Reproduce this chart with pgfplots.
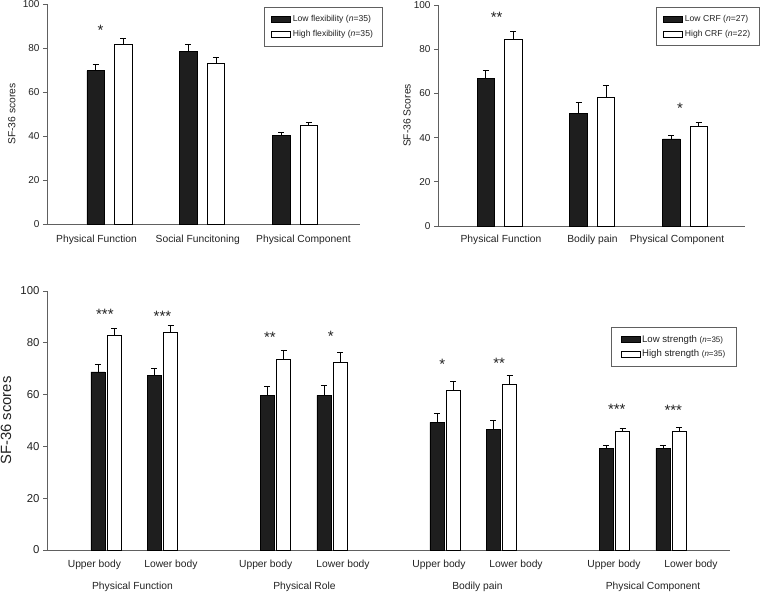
\documentclass[border=0pt]{standalone}
\usepackage{fontspec}
\setmainfont{Liberation Sans}
\usepackage{pgfplots}
\pgfplotsset{compat=1.18}
\definecolor{barblack}{HTML}{1E1E1E}
\definecolor{axgray}{HTML}{606060}
\definecolor{txt}{HTML}{222222}
\newcommand{\fs}[1]{\fontsize{#1}{#1}\selectfont}
\tikzset{sig/.style={font=\fs{15}, text=txt, anchor=base, yshift=-8.5pt, inner sep=0pt}}
\pgfplotsset{
  sfbase/.style={
    scale only axis,
    anchor=south west,
    clip=false,
    axis lines=left,
    axis line style={draw=axgray,line width=0.7pt,-},
    ymin=0, ymax=100,
    ytick={0,20,40,60,80,100},
    tick align=outside,
    major tick length=4pt,
    y tick style={draw=axgray,line width=0.7pt},
    x tick style={draw=none},
    /pgf/number format/assume math mode=true,
    tick label style={text=txt},
    legend cell align=left,
    legend image code/.code={\draw[##1] (0pt,-3pt) rectangle (19pt,3pt);},
  },
  ebars/.style={draw=none, mark=none, forget plot,
    error bars/y dir=plus, error bars/y explicit,
    error bars/error bar style={black,line width=0.7pt},
    error bars/error mark options={rotate=90,black,line width=0.7pt,mark size=3pt}},
  lowbar/.style={ybar, bar shift=0pt, fill=barblack, draw=black, line width=0.6pt},
  highbar/.style={ybar, bar shift=0pt, fill=white, draw=black, line width=0.6pt},
}
\begin{document}
\begin{tikzpicture}
\useasboundingbox (0pt,0pt) rectangle (763pt,593pt);
% ---------------- top left
\begin{axis}[sfbase,
  at={(47pt,369pt)}, width=313pt, height=220pt,
  xmin=-0.672, xmax=2.70,
  xtick={-0.138,0.952,2.091},
  xticklabels={Physical Function,Social Funcitoning,Physical Component},
  xticklabel style={font=\fs{10.3}, anchor=center, yshift=-12pt},
  yticklabel style={font=\fs{10}},
  every axis y label/.style={at={(axis description cs:-0.112,0.5)}, rotate=90, anchor=center, font=\fs{10.3}, text=txt},
  ylabel={SF-36 scores},
  legend style={at={(0.693,0.986)}, anchor=north west, draw=axgray, line width=0.7pt, fill=white,
    font=\fs{8.6}, text=txt, inner xsep=7pt, inner ysep=6pt, row sep=3pt},
]
\addplot[lowbar, bar width=17.5pt] coordinates {(-0.148,69.7) (0.852,78.6) (1.852,40.3)};
\addlegendentry{Low flexibility (\textit{n}=35)}
\addplot[highbar, bar width=17.5pt] coordinates {(0.148,81.8) (1.148,73.0) (2.148,45.0)};
\addlegendentry{High flexibility (\textit{n}=35)}
\addplot[ebars] coordinates {(-0.148,69.7)+-(0,3.0) (0.852,78.6)+-(0,3.2) (1.852,40.3)+-(0,1.4)};
\addplot[ebars] coordinates {(0.148,81.8)+-(0,2.6) (1.148,73.0)+-(0,2.8) (2.148,45.0)+-(0,1.2)};
\node[sig] at (axis cs:-0.095,89.5) {*};
\end{axis}
% ---------------- top right
\begin{axis}[sfbase,
  at={(438pt,367pt)}, width=307pt, height=221pt,
  xmin=-0.663, xmax=2.647,
  xtick={0.016,1.003,1.914},
  xticklabels={Physical Function,Bodily pain,Physical Component},
  xticklabel style={font=\fs{10.3}, anchor=center, yshift=-10pt},
  yticklabel style={font=\fs{10}},
  every axis y label/.style={at={(axis description cs:-0.101,0.5)}, rotate=90, anchor=center, font=\fs{10.3}, text=txt},
  ylabel={SF-36 Scores},
  legend style={at={(0.710,0.991)}, anchor=north west, draw=axgray, line width=0.7pt, fill=white,
    font=\fs{8.6}, text=txt, inner xsep=7pt, inner ysep=6pt, row sep=3pt},
]
\addplot[lowbar, bar width=17.5pt] coordinates {(-0.148,66.8) (0.852,51.0) (1.852,39.4)};
\addlegendentry{Low CRF (\textit{n}=27)}
\addplot[highbar, bar width=17.5pt] coordinates {(0.148,84.3) (1.148,58.1) (2.148,44.9)};
\addlegendentry{High CRF (\textit{n}=22)}
\addplot[ebars] coordinates {(-0.148,66.8)+-(0,3.5) (0.852,51.0)+-(0,5.0) (1.852,39.4)+-(0,1.8)};
\addplot[ebars] coordinates {(0.148,84.3)+-(0,3.9) (1.148,58.1)+-(0,5.4) (2.148,44.9)+-(0,2.0)};
\node[sig] at (axis cs:-0.03,95.9) {**};
\node[sig] at (axis cs:1.946,54.8) {*};
\end{axis}
% ---------------- bottom
\begin{axis}[sfbase,
  at={(47pt,43pt)}, width=683pt, height=259pt,
  xmin=-1.044, xmax=11.044,
  xtick={-0.204,1.150,2.827,4.195,5.894,7.257,8.991,10.354},
  xticklabels={Upper body,Lower body,Upper body,Lower body,Upper body,Lower body,Upper body,Lower body},
  xticklabel style={font=\fs{10.3}, anchor=center, yshift=-11pt},
  yticklabel style={font=\fs{11.4}},
  every axis y label/.style={at={(axis description cs:-0.060,0.5)}, rotate=90, anchor=center, font=\fs{14.8}, text=txt},
  ylabel={SF-36 scores},
  legend style={at={(0.826,0.861)}, anchor=north west, draw=axgray, line width=0.7pt, fill=white,
    font=\fs{9.6}, text=txt, inner xsep=9pt, inner ysep=6pt, row sep=2pt},
]
\addplot[lowbar, bar width=14pt] coordinates {(-0.142,68.8) (0.858,67.3) (2.858,59.7) (3.858,59.7) (5.858,49.3) (6.858,46.6) (8.858,39.2) (9.858,39.2)};
\addlegendentry{Low strength {\fs{8}(\textit{n}=35)}}
\addplot[highbar, bar width=14pt] coordinates {(0.142,82.8) (1.142,84.0) (3.142,73.6) (4.142,72.3) (6.142,61.7) (7.142,63.9) (9.142,46.0) (10.142,45.8)};
\addlegendentry{High strength {\fs{8}(\textit{n}=35)}}
\addplot[ebars] coordinates {(-0.142,68.8)+-(0,2.7) (0.858,67.3)+-(0,2.8) (2.858,59.7)+-(0,3.5) (3.858,59.7)+-(0,3.8) (5.858,49.3)+-(0,3.3) (6.858,46.6)+-(0,3.4) (8.858,39.2)+-(0,1.2) (9.858,39.2)+-(0,1.2)};
\addplot[ebars] coordinates {(0.142,82.8)+-(0,2.7) (1.142,84.0)+-(0,2.9) (3.142,73.6)+-(0,3.4) (4.142,72.3)+-(0,4.0) (6.142,61.7)+-(0,3.5) (7.142,63.9)+-(0,3.6) (9.142,46.0)+-(0,1.1) (10.142,45.8)+-(0,1.4)};
\node[sig] at (axis cs:-0.02,92.3) {***};
\node[sig] at (axis cs:1.0,91.6) {***};
\node[sig] at (axis cs:2.90,83.3) {**};
\node[sig] at (axis cs:3.98,83.6) {*};
\node[sig] at (axis cs:5.95,73.1) {*};
\node[sig] at (axis cs:6.96,73.3) {**};
\node[sig] at (axis cs:9.04,55.6) {***};
\node[sig] at (axis cs:10.04,55.3) {***};
\node[font=\fs{10.3}, text=txt] at (axis cs:0.469,0) [yshift=-37pt] {Physical Function};
\node[font=\fs{10.3}, text=txt] at (axis cs:3.513,0) [yshift=-37pt] {Physical Role};
\node[font=\fs{10.3}, text=txt] at (axis cs:6.575,0) [yshift=-37pt] {Bodily pain};
\node[font=\fs{10.3}, text=txt] at (axis cs:9.681,0) [yshift=-37pt] {Physical Component};
\end{axis}
\end{tikzpicture}
\end{document}
